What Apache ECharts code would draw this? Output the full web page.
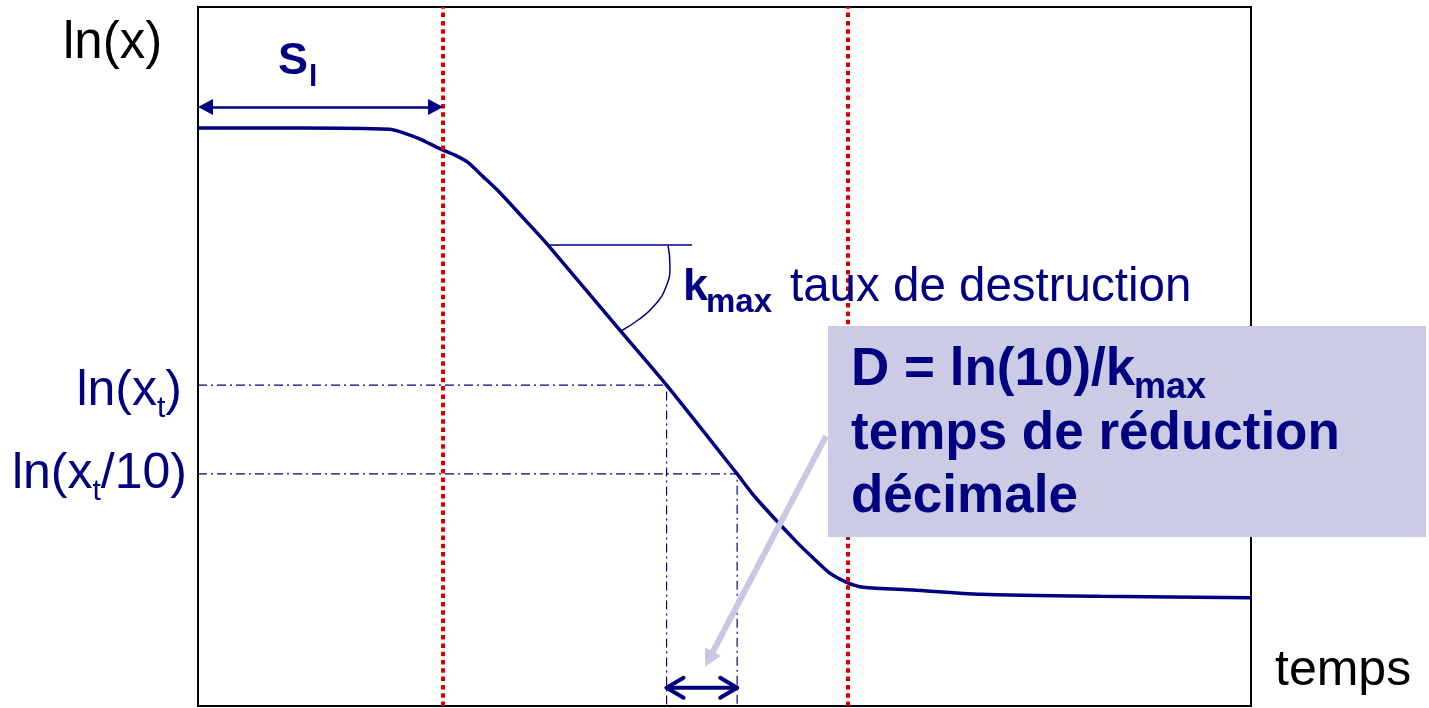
<!doctype html>
<html lang="fr">
<head>
<meta charset="UTF-8">
<title>Courbe de destruction</title>
<style>
  html, body { margin: 0; padding: 0; background: #fff; }
  #main { width: 1429px; height: 708px; }
</style>
<script src="https://cdn.jsdelivr.net/npm/echarts@6/dist/echarts.min.js"></script>
</head>
<body>
<div id="main"></div>
<script>
// courbe de survie : temps (0-100) en abscisse, ln(x) (0-10) en ordonnee
var curveT  = [0, 9.7, 18.2, 19.5, 21.1, 23.0, 24.4, 25.6, 27.1, 28.7, 30.9, 33.2, 40.1, 44.5, 51.2, 52.9, 56.7, 58.4, 60.0, 61.6, 63.2, 67.9, 74.3, 85.7, 100];
var curveLn = [8.27, 8.27, 8.25, 8.20, 8.11, 7.97, 7.88, 7.78, 7.57, 7.34, 6.98, 6.60, 5.37, 4.59, 3.32, 2.99, 2.37, 2.12, 1.90, 1.77, 1.70, 1.66, 1.60, 1.57, 1.55];

// limites des phases (pointilles rouges)
var phaseT = [23.27, 61.73];

// graduations ln(xt) et ln(xt/10), et temps correspondants
var lnTicks = [4.59, 3.32];
var tickTexts = ['{a|ln(x}{b|t}{c|)}', '{n|ln(x}{s|t}{n|/10)}'];
var tReduc = [44.5, 51.2];

// fleche de latence Sl
var latenceT = [0, 23.27];
var latenceLn = 8.57;

// fleche D en bas
var dArrowLn = 0.26;

// angle kmax
var kmaxT = [33.24, 46.91];
var kmaxLn = 6.595;
var arcT  = [44.63, 44.82, 44.44, 43.30, 41.79, 40.17];
var arcLn = [6.595, 6.309, 5.994, 5.722, 5.522, 5.365];

// fleche claire qui pointe vers D
var pointerT  = [59.64, 48.53];
var pointerLn = [3.86, 0.67];

var navy = '#000080';
var font = "'Liberation Sans', Arial, sans-serif";

function zip(xs, ys) {
    var out = [];
    for (var i = 0; i < xs.length; i++) out.push([xs[i], ys[i]]);
    return out;
}

function plain(data, style, z) {
    return {
        type: 'line', data: data, symbol: 'none', silent: true, z: z || 2,
        lineStyle: style
    };
}

var series = [];

// courbe principale
series.push({
    type: 'line', data: zip(curveT, curveLn), symbol: 'none', smooth: 0.25, z: 2,
    lineStyle: { color: navy, width: 3.5 }
});

// pointilles rouges
phaseT.forEach(function (t) {
    series.push(plain([[t, 0], [t, 10]], { color: '#d80000', width: 4, type: [4.5, 3.8] }, 3));
});

// lignes mixtes vers ln(xt) et ln(xt/10)
lnTicks.forEach(function (v, i) {
    series.push(plain([[0, v], [tReduc[i], v], [tReduc[i], 0]],
        { color: navy, width: 1.2, type: [9, 4, 2, 4] }, 1));
});

// angle kmax
series.push(plain([[kmaxT[0], kmaxLn], [kmaxT[1], kmaxLn]], { color: navy, width: 1.5 }));
series.push({
    type: 'line', data: zip(arcT, arcLn), symbol: 'none', smooth: true, silent: true,
    lineStyle: { color: navy, width: 1.5 }
});

// fleche D (chevrons ouverts)
var dx = 1.61, dy = 0.143;
var dStyle = { color: navy, width: 4, cap: 'round', join: 'round' };
series.push(plain([[tReduc[0], dArrowLn], [tReduc[1], dArrowLn]], dStyle));
series.push(plain([[tReduc[0] + dx, dArrowLn + dy], [tReduc[0], dArrowLn], [tReduc[0] + dx, dArrowLn - dy]], dStyle));
series.push(plain([[tReduc[1] - dx, dArrowLn + dy], [tReduc[1], dArrowLn], [tReduc[1] - dx, dArrowLn - dy]], dStyle));

// fleches en markLine (la pointe du triangle est centree sur l'extremite, on recule d'une demi-pointe)
var halfHead = 0.71;
series.push({
    type: 'line', data: [], clip: false, silent: true,
    markLine: {
        silent: true,
        label: { show: false },
        emphasis: { disabled: true },
        data: [
            [
                { coord: [latenceT[0] + halfHead, latenceLn], symbol: 'triangle', symbolSize: [16, 15],
                  lineStyle: { color: navy, width: 2.5, type: 'solid' } },
                { coord: [latenceT[1] - halfHead, latenceLn], symbol: 'triangle', symbolSize: [16, 15] }
            ],
            [
                { coord: [pointerT[0], pointerLn[0]], symbol: 'none',
                  lineStyle: { color: '#c8c8e4', width: 6, type: 'solid' } },
                { coord: [pointerT[1], pointerLn[1]], symbol: 'triangle', symbolSize: [18, 17] }
            ]
        ]
    }
});

var rich1 = {
    a: { fontSize: 50, color: navy, fontFamily: font, padding: [12, 0, 0, 0] },
    b: { fontSize: 30, color: navy, fontFamily: font, padding: [48, 0, 0, 0] },
    c: { fontSize: 50, color: navy, fontFamily: font, padding: [12, 5, 0, 0] },
    n: { fontSize: 50, color: navy, fontFamily: font },
    s: { fontSize: 30, color: navy, fontFamily: font, padding: [36, 0, 0, 0] }
};

function txt(x, y, text, size, bold, color) {
    return {
        type: 'text', x: x, y: y, z: 20, silent: true,
        style: {
            text: text, fill: color || navy,
            font: (bold ? 'bold ' : '') + size + 'px ' + font,
            align: 'left', textAlign: 'left',
            verticalAlign: 'middle', textVerticalAlign: 'middle'
        }
    };
}

var chart = echarts.init(document.getElementById('main'));
chart.setOption({
    animation: false,
    backgroundColor: '#fff',
    grid: {
        left: 198, right: 178, top: 7, bottom: 2,
        show: true, borderColor: '#000', borderWidth: 2, containLabel: false
    },
    xAxis: {
        type: 'value', min: 0, max: 100,
        axisLine: { show: false }, axisTick: { show: false },
        axisLabel: { show: false }, splitLine: { show: false }
    },
    yAxis: {
        type: 'value', min: 0, max: 10,
        axisLine: { show: false }, axisTick: { show: false }, splitLine: { show: false },
        axisLabel: {
            customValues: lnTicks,
            margin: 11,
            formatter: function (v) {
                for (var i = 0; i < lnTicks.length; i++) {
                    if (Math.abs(lnTicks[i] - v) < 1e-6) return tickTexts[i];
                }
                return '';
            },
            rich: rich1
        }
    },
    series: series,
    graphic: [
        { type: 'rect', z: 15, silent: true, shape: { x: 828, y: 326, width: 598, height: 211 },
          style: { fill: '#cbcbe5' } },
        txt(63, 44, 'ln(x)', 51, false, '#000'),
        txt(1275, 671, 'temps', 50, false, '#000'),
        txt(278, 61.5, 'S', 45, true),
        txt(309, 77.6, 'l', 30, true),
        txt(683, 288, 'k', 45, true),
        txt(706, 303, 'max', 33, true),
        txt(790, 287.5, 'taux de destruction', 47.5, false),
        txt(851, 370, 'D = ln(10)/k', 53, true),
        txt(1134, 388, 'max', 36, true),
        txt(851, 434, 'temps de réduction', 53, true),
        txt(851, 497, 'décimale', 53, true)
    ]
});
</script>
</body>
</html>
